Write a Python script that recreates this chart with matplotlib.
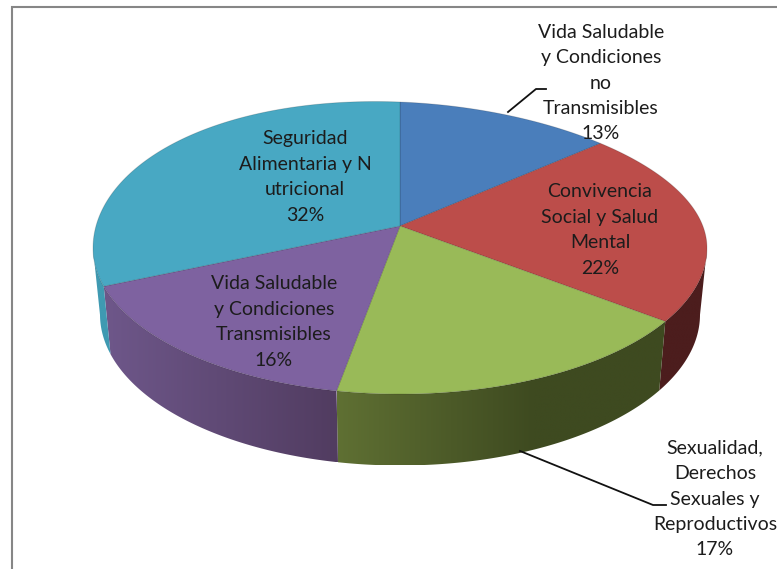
from matplotlib import pyplot as plt
from matplotlib.colors import to_rgb
from matplotlib.patches import Polygon
import numpy as np

# slices, clockwise from 12 o'clock
labels = [
    "Vida Saludable\ny Condiciones\nno\nTransmisibles",
    "Convivencia\nSocial y Salud\nMental",
    "Sexualidad,\nDerechos\nSexuales y\nReproductivos",
    "Vida Saludable\ny Condiciones\nTransmisibles",
    "Seguridad\nAlimentaria y N\nutricional",
]
values = [13.0, 22.4, 17.45, 15.65, 31.5]

top_colors = ["#4a7ebb", "#bc4d4a", "#99ba58", "#7e62a0", "#48a8c3"]
# side gradient: colour at the left end and at the right end
side_colors = [
    ("#3a6190", "#3a6190"),
    ("#4c1d1d", "#4c1d1d"),
    ("#5f7033", "#3e4a20"),
    ("#6e578a", "#513c60"),
    ("#3f9ab2", "#3f9ab2"),
]
side_stop = [1, 1, 0.6, 1, 1]  # where the gradient is finished
label_pos = [(601, 83), (600, 230), (715, 499), (274, 322), (305, 177)]

# pie geometry in pixels
cx, cy, rx, ry = 400, 248, 307, 146
apex_y = 226
bcx, bcy, brx, bry = 400, 314.5, 300, 151
a = (cy - apex_y) / ry


def rim(theta):
    # point of the rim in unit ellipse coords, perspective moves the centre up
    u, v = np.sin(theta), np.cos(theta)
    d = 1 + a * v
    return u * np.sqrt(1 - a * a) / d, (v + a) / d


def top_xy(X, Y):
    # back of the top face leans a bit, left side up and right side down
    return cx + rx * X, cy - ry * Y + 12 * X * np.maximum(Y, 0)


fig = plt.figure(figsize=(7.77, 5.69), dpi=100)
ax = fig.add_axes([0, 0, 1, 1])

# frame of the chart, cut by the picture on the right and bottom
ax.plot([12, 12, 777], [569, 7, 7], color="#868686", lw=1.5, solid_joinstyle="miter")

ends = np.cumsum(values) / np.sum(values) * 2 * np.pi
starts = np.concatenate([[0], ends[:-1]])

# sides first, only the front part of the rim is visible
for s, e, (c0, c1), stop in zip(starts, ends, side_colors, side_stop):
    t = np.linspace(s, e, 600)
    X, Y = rim(t)
    front = Y <= 0
    if front.sum() < 2:
        continue
    X, Y = X[front], Y[front]
    x_top, y_top = top_xy(X, Y)
    x_bot, y_bot = bcx + brx * X, bcy - bry * Y
    xs = np.concatenate([x_top, x_bot[::-1]])
    ys = np.concatenate([y_top, y_bot[::-1]])
    f = np.clip(np.linspace(0, 1, 256) / stop, 0, 1)[:, None]
    grad = np.array(to_rgb(c0)) * (1 - f) + np.array(to_rgb(c1)) * f
    im = ax.imshow(grad[None, :, :], extent=[xs.min(), xs.max(), ys.max(), ys.min()],
                   aspect="auto", zorder=2, interpolation="bilinear")
    clip = Polygon(np.column_stack([xs, ys]), closed=True, transform=ax.transData)
    im.set_clip_path(clip)

# top face
for s, e, col in zip(starts, ends, top_colors):
    t = np.linspace(s, e, 120)
    x_top, y_top = top_xy(*rim(t))
    xs = np.concatenate([[cx], x_top])
    ys = np.concatenate([[apex_y], y_top])
    ax.fill(xs, ys, facecolor=col, edgecolor=(0, 0, 0, 0.15), lw=0.7, zorder=3)

# leader lines
ax.plot([508, 536, 546], [112, 89, 89], color="#111111", lw=1.3, zorder=4)
ax.plot([520, 653, 666], [451, 505, 505], color="#111111", lw=1.3, zorder=4)

for name, val, (x, y) in zip(labels, values, label_pos):
    ax.text(x, y, "%s\n%d%%" % (name, round(val)), ha="center", va="center",
            family="Lato", fontsize=14, color="#1c1c1c", linespacing=1.6, zorder=5)

ax.set_xlim(0, 777)
ax.set_ylim(569, 0)
ax.axis("off")

fig.savefig("out.png", dpi=100)
